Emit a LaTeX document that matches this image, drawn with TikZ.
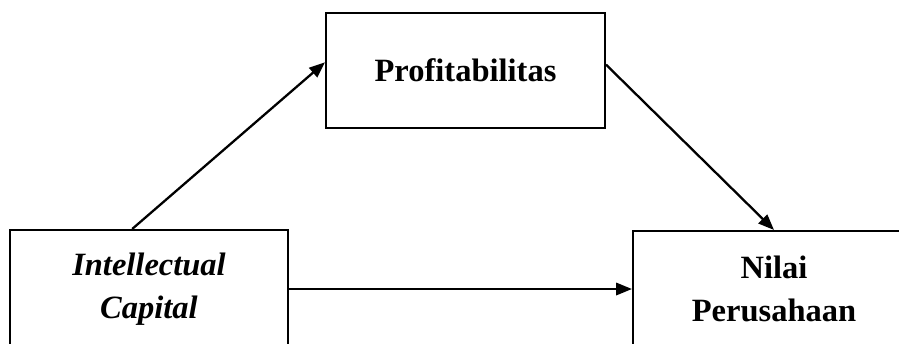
\documentclass[tikz,border=0pt]{standalone}
\usepackage{fontspec}
\setmainfont{Liberation Serif}
\usepackage{tikz}
\usetikzlibrary{arrows.meta,calc}

\newcommand{\boxfont}{\fontsize{18.5}{24.5}\selectfont\bfseries}

\begin{document}
\begin{tikzpicture}[x=0.02cm,y=-0.02cm,
	box/.style={draw, line width=1.2pt, inner sep=0pt, align=center},
	arr/.style={-{Triangle[length=9pt,width=7pt]}, line width=1.3pt}]
	\useasboundingbox (0,0) rectangle (899,343);
	\clip (0,0) rectangle (899,343);
	\node[box, minimum width=5.56cm, minimum height=2.36cm, font=\boxfont\itshape] (ic) at (149,289) {Intellectual\\Capital};
	\node[box, minimum width=5.58cm, minimum height=2.3cm, font=\boxfont] (prof) at (465.5,70.5) {Profitabilitas};
	\node[box, minimum width=5.64cm, minimum height=2.32cm, font=\boxfont] (nv) at (774,289) {Nilai\\Perusahaan};
	\draw[arr] ($(ic.north west)!0.44!(ic.north east)$) -- ($(prof.north west)!0.43!(prof.south west)$);
	\draw[arr] ($(prof.north east)!0.45!(prof.south east)$) -- (nv.north);
	\draw[arr] (ic.east) -- (nv.west);
\end{tikzpicture}
\end{document}
